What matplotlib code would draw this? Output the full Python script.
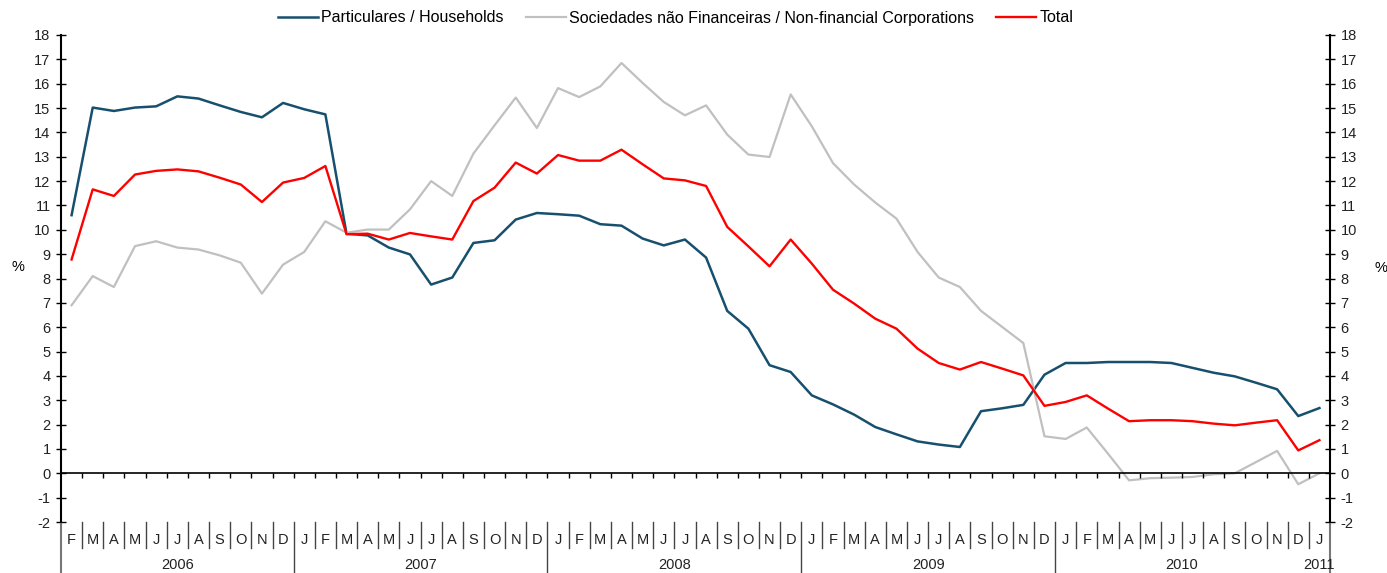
import matplotlib.pyplot as plt
import matplotlib.transforms as mtransforms

plt.rcParams['font.family'] = ['Liberation Sans', 'DejaVu Sans']
plt.rcParams['font.size'] = 10.5
plt.rcParams['axes.unicode_minus'] = False

# meses de Fev 2006 a Jan 2011
months = list('FMAMJJASOND') + list('JFMAMJJASOND') * 4 + ['J']
years = ['2006', '2007', '2008', '2009', '2010', '2011']
year_start = [0, 11, 23, 35, 47, 59]   # índice do primeiro mês de cada ano

households = [10.6, 15.02, 14.88, 15.02, 15.07, 15.48, 15.39, 15.11, 14.84, 14.62, 15.21,
              14.95, 14.74, 9.84, 9.77, 9.27, 8.99, 7.75, 8.04, 9.46, 9.57, 10.42, 10.69,
              10.64, 10.58, 10.23, 10.17, 9.64, 9.36, 9.6, 8.86, 6.67, 5.94, 4.44, 4.16,
              3.2, 2.83, 2.41, 1.9, 1.6, 1.31, 1.18, 1.08, 2.55, 2.67, 2.81, 4.05,
              4.53, 4.53, 4.57, 4.57, 4.57, 4.53, 4.33, 4.13, 3.98, 3.72, 3.45, 2.35,
              2.68]
corporations = [6.9, 8.1, 7.65, 9.33, 9.53, 9.27, 9.19, 8.95, 8.65, 7.38, 8.57,
                9.09, 10.35, 9.88, 10.01, 10.01, 10.84, 12.0, 11.39, 13.13, 14.29, 15.43, 14.18,
                15.82, 15.45, 15.89, 16.85, 16.03, 15.25, 14.7, 15.11, 13.91, 13.09, 12.99, 15.56,
                14.25, 12.74, 11.86, 11.12, 10.46, 9.09, 8.04, 7.65, 6.67, 6.01, 5.35, 1.52,
                1.41, 1.88, 0.81, -0.29, -0.2, -0.18, -0.15, -0.04, 0.0, 0.46, 0.92, -0.45,
                0.0]
total = [8.78, 11.66, 11.39, 12.27, 12.42, 12.48, 12.4, 12.14, 11.86, 11.14, 11.94,
         12.13, 12.62, 9.82, 9.84, 9.6, 9.87, 9.73, 9.6, 11.18, 11.73, 12.76, 12.31,
         13.07, 12.84, 12.84, 13.29, 12.69, 12.11, 12.03, 11.8, 10.12, 9.32, 8.5, 9.6,
         8.61, 7.54, 6.97, 6.35, 5.94, 5.12, 4.53, 4.26, 4.57, 4.3, 4.02, 2.77,
         2.93, 3.2, 2.66, 2.14, 2.18, 2.18, 2.14, 2.04, 1.97, 2.08, 2.18, 0.94,
         1.36]

n = len(months)
x = list(range(n))

fig = plt.figure(figsize=(13.87, 5.73), dpi=100)
ax = fig.add_axes([61 / 1387, 51 / 573, 1269 / 1387, 487 / 573])

ax.plot(x, households, color='#17506E', lw=1.8, label='Particulares / Households')
ax.plot(x, corporations, color='#C0C0C0', lw=1.6, label='Sociedades não Financeiras / Non-financial Corporations')
ax.plot(x, total, color='#FF0000', lw=1.7, label='Total')

ax.set_xlim(-0.5, n - 0.5)
ax.set_ylim(-2, 18)
ax.set_yticks(range(-2, 19))
ax.set_xticks([])
for s in ['top', 'bottom']:
    ax.spines[s].set_visible(False)
for s in ['left', 'right']:
    ax.spines[s].set_linewidth(1.5)
ax.tick_params(axis='y', direction='inout', length=7, width=1, right=True,
               labelright=True, pad=4, colors='#000000', labelcolor='#222222')

# linha do zero com marcas mensais
ax.axhline(0, color='black', lw=1.2)
ax.vlines([i + 0.5 for i in range(n - 1)], -0.2, 0, color='black', lw=1)

# rótulos dos meses e anos abaixo do gráfico
tr = mtransforms.blended_transform_factory(ax.transData, ax.transAxes)
for i, m in enumerate(months):
    ax.text(i, -0.037, m, transform=tr, ha='center', va='center', color='#222222')
for i in range(n - 1):
    long_sep = (i + 1) in year_start[1:-1]
    ax.plot([i + 0.5, i + 0.5], [0, -0.107 if long_sep else -0.053], transform=tr,
            color='#444444', lw=1, clip_on=False)
for edge in [-0.5, n - 0.5]:
    ax.plot([edge, edge], [0, -0.107], transform=tr, color='#777777', lw=1.5, clip_on=False)
bounds = year_start[1:] + [n]
for yr, a, b in zip(years, year_start, bounds):
    ax.text((a + b - 1) / 2, -0.088, yr, transform=tr, ha='center', va='center',
            color='#222222')

fig.text(18 / 1387, 1 - 267 / 573, '%', ha='center', va='center')
fig.text(1381 / 1387, 1 - 268 / 573, '%', ha='center', va='center')

fig.legend(loc='center', bbox_to_anchor=(0.487, 1 - 18 / 573), ncol=3, frameon=False,
           handlelength=2.5, handletextpad=0.2, columnspacing=1.4, fontsize=11.5)

plt.savefig('out.png', dpi=100)
